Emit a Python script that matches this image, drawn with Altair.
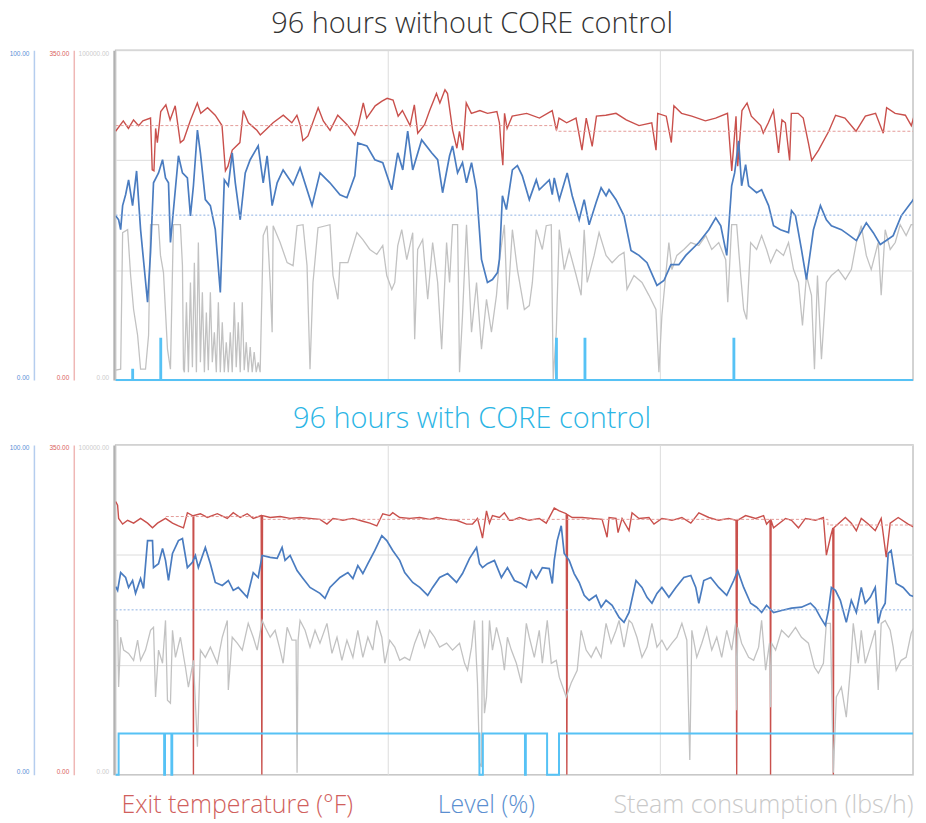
import altair as alt
import pandas as pd

# ---------------- data (time in hours, values in engineering units) ----------------
X_MAX = 93.7          # visible part of the 96 h window
GRID_HOURS = [32, 64]
LEVEL_MAX, TEMP_MAX, STEAM_MAX, STATUS_MAX = 100, 350, 100000, 8
LEVEL_SETPOINT = 50

TOP_TEMP = [(0.0,264),(0.9,275),(1.5,267),(2.1,276),(2.7,270),(3.2,275),(4.1,278),(4.3,223),(4.5,222),(4.7,267),
 (4.9,252),(5.3,285),(5.9,292),(6.4,276),(7.0,291),(7.6,252),(8.0,255),(8.8,276),(9.6,294),(10.0,283),(10.8,289),
 (11.7,281),(12.5,270),(12.9,222),(13.2,227),(13.7,244),(14.6,252),(15.0,286),(15.6,273),(16.6,265),(17.0,260),
 (17.8,267),(18.5,273),(19.7,281),(20.7,273),(21.3,281),(21.7,270),(22.0,254),(22.6,259),(23.8,289),(24.4,275),
 (25.2,265),(26.1,281),(27.2,271),(28.1,260),(28.5,270),(29.1,294),(29.5,278),(30.5,291),(31.3,296),(31.9,299),
 (32.6,297),(33.2,280),(33.7,286),(34.6,270),(35.1,292),(35.5,262),(36.3,271),(36.9,286),(37.7,304),(38.1,294),
 (38.7,308),(39.0,304),(39.6,265),(40.1,246),(40.4,264),(40.8,244),(41.2,294),(41.8,283),(42.8,286),(43.7,283),
 (44.8,285),(45.1,273),(45.3,248),(45.5,228),(45.7,283),(46.0,267),(46.6,280),(48.3,283),(49.8,278),(51.3,286),
 (51.8,265),(52.1,278),(53.0,273),(54.1,278),(54.8,244),(55.3,278),(56.0,248),(56.5,280),(57.6,281),(58.8,283),
 (60.0,276),(61.5,270),(63.0,273),(63.5,244),(63.7,283),(64.7,280),(65.3,252),(65.6,291),(66.5,283),(67.7,280),
 (69.3,275),(70.5,278),(71.9,283),(72.4,222),(72.9,280),(73.1,227),(73.6,286),(74.2,294),(74.7,280),(75.8,270),
 (76.1,262),(76.7,273),(77.3,286),(77.9,241),(78.3,276),(78.7,273),(79.2,233),(79.4,283),(80.2,283),(80.8,278),
 (81.4,252),(81.8,233),(82.6,244),(83.8,264),(84.6,281),(85.7,278),(87.0,264),(88.1,280),(89.3,283),(90.2,262),
 (90.6,289),(91.6,283),(92.8,281),(93.5,270),(94.2,292),(94.5,273),(95.0,276)]
TOP_TEMP_AVG = [(0.0,270),(51.8,264),(93.7,264)]

TOP_LEVEL = [(0.0,49.8),(0.35,48.6),(0.59,45.6),(0.82,52.9),(1.17,56.2),(1.52,60.7),(1.99,52.9),(2.46,63.4),
 (2.93,45.6),(3.75,23.6),(4.10,38.7),(4.45,59.8),(5.04,62.8),(5.51,66.8),(5.86,61.3),(6.21,59.8),(6.44,41.7),
 (7.38,68.0),(7.85,62.8),(8.43,61.3),(8.79,49.8),(9.14,58.9),(9.61,75.8),(9.96,68.9),(10.54,54.7),(11.13,52.9),
 (11.71,45.6),(12.30,26.6),(12.77,60.7),(13.24,58.9),(13.70,68.9),(14.06,59.8),(14.64,48.6),(15.23,62.8),
 (15.81,66.8),(16.75,71.0),(17.34,59.8),(17.80,68.0),(18.39,52.9),(18.98,59.8),(19.68,63.7),(20.85,59.2),
 (21.67,64.4),(23.08,52.9),(24.01,62.8),(25.18,59.8),(26.36,56.2),(27.18,55.3),(28.11,61.9),(28.46,71.9),
 (29.52,71.0),(30.46,66.8),(31.39,65.9),(32.45,57.7),(33.15,68.9),(33.74,63.7),(34.32,75.5),(34.91,63.7),
 (35.96,72.8),(37.13,68.9),(37.84,66.8),(38.42,56.8),(39.24,68.0),(39.59,71.0),(40.18,62.8),(40.76,65.9),
 (41.23,59.8),(41.82,65.9),(42.41,57.7),(42.99,36.6),(43.69,29.6),(44.28,30.5),(44.87,32.6),(45.10,36.6),
 (45.45,55.9),(45.92,51.7),(46.62,63.7),(47.21,65.0),(47.79,61.9),(48.61,54.7),(49.43,60.7),(49.78,57.7),
 (50.96,60.7),(51.31,56.2),(51.54,61.3),(52.13,54.7),(53.06,62.8),(53.65,55.9),(54.47,48.6),(55.06,54.7),
 (55.64,47.1),(56.46,53.8),(57.05,58.3),(57.63,55.9),(57.98,57.7),(58.80,54.7),(59.74,49.8),(60.56,39.3),
 (61.50,37.8),(62.44,35.6),(63.61,28.7),(64.43,30.2),(65.25,35.0),(66.18,35.0),(67.00,37.8),(68.53,41.7),
 (69.70,45.6),(70.52,49.2),(71.11,46.8),(71.81,37.8),(72.39,58.9),(72.74,62.8),(73.21,72.5),(73.56,58.9),
 (74.03,65.3),(74.38,58.9),(75.32,56.8),(75.91,57.7),(76.73,52.9),(77.31,46.8),(78.13,45.6),(79.07,44.7),
 (79.42,51.4),(79.89,49.8),(80.59,39.6),(81.18,30.5),(82.00,45.6),(82.82,52.9),(83.52,48.6),(84.11,46.8),
 (85.28,45.6),(86.10,44.1),(87.04,42.3),(88.21,47.7),(89.03,44.7),(89.85,41.1),(90.55,42.3),(91.37,43.8),
 (92.31,49.8),(93.48,53.8),(94.53,57.7),(95.0,58.9)]

TOP_STEAM = [(0.0,3000),(0.59,3300),(0.82,44700),(1.41,45600),(1.76,31700),(2.11,21400),(2.58,13600),(2.93,3300),
 (3.51,3300),(3.87,13600),(4.10,47100),(5.04,47100),(5.27,37800),(5.62,32600),(6.09,9400),(6.44,3300),(6.79,47100),
 (7.61,47100),(7.85,34700),(7.97,3300),(8.08,2400),(8.32,23600),(8.55,2400),(8.79,29600),(9.02,3900),(9.25,35600),
 (9.49,2400),(9.72,41700),(9.96,5400),(10.19,26600),(10.43,2400),(10.66,20500),(10.89,3000),(11.13,26600),
 (11.36,5400),(11.60,14500),(11.83,2400),(12.07,23600),(12.30,2400),(12.53,17500),(12.77,2400),(13.00,11500),
 (13.24,2400),(13.47,14500),(13.70,2400),(13.94,23600),(14.17,3900),(14.41,17500),(14.64,2400),(14.88,23600),
 (15.11,3000),(15.35,11500),(15.58,2400),(15.81,10000),(16.05,2400),(16.28,8500),(16.52,2400),(16.75,5400),
 (16.98,2400),(17.34,43800),(17.80,46800),(18.16,29600),(18.39,14500),(18.51,46800),(19.33,41700),(20.15,35600),
 (20.85,34700),(21.32,46800),(22.02,47100),(22.49,34700),(22.84,3300),(23.19,29600),(23.78,46200),(25.18,47100),
 (25.54,31700),(26.12,24500),(26.36,35600),(27.29,35600),(28.35,44700),(29.05,42600),(29.87,39600),(30.69,38100),
 (31.39,40800),(31.86,31700),(32.45,27500),(32.80,29600),(33.15,40800),(33.62,45600),(34.21,36500),(34.91,44700),
 (35.14,12400),(35.49,39600),(36.08,42600),(36.67,24500),(37.25,41700),(37.84,29600),(38.31,9400),(38.89,41700),
 (39.24,29600),(39.59,47100),(40.18,47100),(40.41,2400),(40.76,19600),(41.23,47100),(41.82,14500),(42.41,29600),
 (42.99,9400),(43.58,24500),(44.16,14500),(44.75,25700),(45.10,36500),(45.68,47100),(46.04,21400),(46.62,45600),
 (47.21,33500),(48.03,21400),(48.61,22600),(48.97,29600),(49.43,45600),(50.14,39600),(50.60,46800),(51.19,47100),
 (51.42,300),(51.78,14500),(52.13,45600),(52.71,33500),(53.30,39600),(54.12,31700),(54.70,25700),(55.06,45600),
 (55.41,29600),(56.23,37800),(56.81,44700),(57.63,37800),(58.34,35600),(59.16,37800),(59.74,38700),(60.09,27500),
 (60.91,31700),(61.85,29600),(62.67,25700),(63.49,21400),(63.84,2400),(64.19,19600),(65.01,41700),(65.37,33500),
 (65.95,37800),(66.77,39600),(67.59,41700),(68.53,40800),(69.35,43800),(70.05,39600),(70.87,41700),(71.69,36500),
 (71.93,23600),(72.39,47100),(72.98,47100),(73.45,31700),(73.80,21400),(74.15,18400),(74.62,41700),(75.32,39600),
 (75.91,43800),(76.49,39600),(76.96,35600),(77.66,39600),(78.48,37800),(79.07,41700),(79.66,33500),(80.24,29600),
 (80.71,16600),(81.18,31700),(81.77,25700),(82.12,3300),(82.47,31700),(82.94,6300),(83.52,29600),(84.11,31700),
 (84.93,33500),(85.75,30500),(86.45,33500),(87.04,41700),(87.62,46800),(88.21,37800),(88.79,33500),(89.61,41700),
 (89.96,25700),(90.43,45600),(91.02,39600),(91.61,41700),(92.19,47100),(92.89,43800),(93.48,47100),(94.30,47100),
 (94.65,41700),(95.0,47100)]

TOP_STATUS = [(0.0,0),(1.95,0.25),(2.05,0),(5.25,1),(5.35,0),(51.75,1),(51.85,0),(55.1,1),(55.2,0),
 (72.6,1),(72.7,0),(93.7,0)]

BOT_TEMP = [(0.0,290),(0.23,286),(0.35,272),(0.82,266),(1.41,270),(2.11,267),(2.93,272),(3.75,267),(4.33,262),
 (4.92,267),(5.86,272),(6.68,267),(7.38,264),(7.97,262),(8.43,278),(9.02,275),(9.10,275),(9.14,0),(9.18,275),
 (9.96,277),(10.78,273),(11.95,277),(13.12,272),(13.82,278),(14.64,273),(15.46,277),(16.17,272),(17.10,275),
 (17.18,0),(17.26,275),(18.16,273),(19.33,274),(20.50,272),(21.67,273),(22.84,272),(24.01,271),(24.83,266),
 (25.54,272),(26.71,270),(27.88,272),(29.05,269),(29.87,267),(30.69,264),(31.39,277),(32.21,275),(32.56,278),
 (33.38,273),(34.56,272),(35.73,273),(36.90,271),(37.72,273),(38.89,271),(40.06,270),(41.23,266),(41.94,266),
 (42.52,272),(42.99,256),(43.11,251),(43.58,280),(43.93,267),(44.28,275),(45.10,273),(45.68,278),(46.27,270),
 (46.62,270),(47.44,273),(48.61,270),(49.78,272),(50.60,267),(51.54,283),(52.13,280),(52.95,277),(53.02,0),
 (53.10,276),(53.65,273),(54.82,273),(55.99,272),(57.16,271),(57.75,252),(57.98,273),(58.80,272),(59.04,257),
 (59.51,272),(60.33,259),(60.68,278),(61.50,272),(62.67,273),(63.26,266),(64.19,272),(65.37,270),(66.54,273),
 (67.59,267),(68.53,278),(69.70,273),(70.87,270),(72.04,272),(72.90,270),(72.98,0),(73.06,270),(74.03,275),
 (75.21,272),(76.14,275),(76.49,266),(76.90,270),(76.96,0),(77.02,270),(77.31,262),(78.72,272),(79.42,270),
 (80.24,262),(81.06,272),(82.23,270),(83.17,273),(83.52,233),(83.99,252),(84.28,262),(84.34,0),(84.40,262),
 (85.75,273),(86.45,267),(87.04,259),(87.62,272),(88.44,266),(89.26,259),(89.96,272),(90.55,231),(91.02,267),
 (91.96,273),(93.13,266),(93.95,262),(94.53,272),(95.0,267)]
BOT_TEMP_AVG = [(5.9,274),(17.0,271),(83.7,265),(93.7,265)]

BOT_LEVEL = [(0.0,57.0),(0.23,55.9),(0.59,61.3),(1.17,59.8),(1.52,56.8),(1.99,58.9),(2.34,55.0),(2.93,59.5),
 (3.28,56.5),(3.75,71.0),(4.33,71.0),(4.45,62.8),(5.04,64.0),(5.51,68.6),(5.86,65.0),(6.21,58.9),(6.68,67.1),
 (7.38,71.0),(7.85,71.6),(8.43,62.8),(9.02,64.4),(9.37,66.5),(9.72,62.8),(10.54,68.9),(11.13,64.0),(11.71,58.3),
 (12.53,57.4),(13.24,58.9),(13.82,55.9),(14.41,56.8),(15.46,53.8),(16.17,61.3),(16.75,59.8),(17.22,66.5),
 (18.16,65.9),(18.98,65.6),(19.56,68.9),(19.91,65.0),(20.50,66.5),(21.32,61.9),(22.02,59.5),(22.84,56.8),
 (24.01,55.0),(24.60,53.5),(25.18,56.8),(26.36,59.8),(27.29,61.3),(27.88,59.5),(28.46,63.4),(29.05,61.0),
 (29.64,64.0),(30.46,68.0),(31.28,72.5),(31.86,71.0),(32.56,68.0),(33.38,65.0),(33.97,61.3),(34.91,58.3),
 (35.73,56.8),(36.67,54.4),(37.25,56.8),(38.07,59.8),(39.01,61.0),(40.06,58.3),(40.76,61.0),(41.59,65.6),
 (42.41,68.9),(42.76,64.0),(43.11,62.8),(43.69,64.0),(44.51,65.0),(45.33,59.8),(46.04,62.8),(46.86,58.9),
 (47.68,58.0),(48.26,56.8),(48.85,61.9),(49.43,59.5),(50.14,62.8),(50.96,62.5),(51.31,58.0),(51.54,65.0),
 (51.89,71.0),(52.36,75.5),(52.71,67.1),(53.30,65.0),(53.88,61.0),(54.47,58.3),(55.06,54.4),(55.64,52.9),
 (56.46,54.4),(57.05,50.8),(57.63,52.9),(58.34,51.4),(59.16,47.7),(59.74,46.2),(60.33,49.2),(61.15,58.9),
 (61.85,56.8),(62.44,53.8),(63.02,52.0),(63.61,55.0),(64.19,56.8),(65.01,53.8),(65.83,56.8),(66.77,59.8),
 (67.59,60.4),(68.17,56.8),(68.53,52.0),(69.11,58.9),(69.93,59.8),(70.87,56.8),(71.81,54.4),(72.63,58.9),
 (73.10,61.9),(73.80,56.8),(74.62,52.0),(75.32,50.8),(75.91,49.2),(76.49,51.4),(77.31,49.2),(78.25,49.8),
 (79.42,50.5),(80.59,50.8),(81.65,52.0),(82.23,50.5),(82.82,47.7),(83.40,45.3),(83.76,49.8),(84.11,56.8),
 (84.58,55.9),(85.16,52.9),(85.86,46.2),(86.45,52.9),(87.04,49.2),(87.62,56.8),(88.09,52.0),(88.68,53.8),
 (89.26,56.8),(89.61,45.9),(89.96,49.8),(90.43,52.0),(90.78,67.1),(91.13,68.0),(91.72,58.0),(92.54,56.8),
 (93.36,54.4),(94.06,53.8),(94.65,52.0),(95.0,49.8)]

BOT_STEAM = [(0.0,46800),(0.23,46800),(0.35,26600),(0.59,41700),(0.94,37800),(1.52,36800),(2.11,34700),(2.58,40800),
 (2.93,34700),(3.51,37800),(4.10,43800),(4.45,44700),(4.69,23600),(5.04,37800),(5.51,33800),(5.86,46800),(6.09,22600),
 (6.44,21700),(6.68,43800),(7.03,35600),(7.61,41700),(8.20,32600),(8.55,26600),(9.14,34700),(9.61,8500),(9.96,37800),
 (10.54,35600),(11.13,38700),(11.95,33800),(12.53,41700),(13.12,46800),(13.24,25700),(13.70,41700),(14.29,39900),
 (14.88,37800),(15.58,45900),(16.17,41700),(16.63,37800),(17.22,46800),(17.57,44700),(18.16,41700),(18.74,43800),
 (19.33,37800),(19.68,33800),(20.15,44700),(20.73,40800),(21.20,40800),(21.32,600),(21.44,40800),(21.67,46800),
 (22.26,43800),(22.84,38700),(23.43,43800),(24.01,39900),(24.83,45900),(25.42,36800),(26.01,41700),(26.59,34700),
 (27.18,40800),(27.88,35600),(28.46,43800),(29.05,35600),(29.64,41700),(30.22,37800),(30.69,46800),(31.28,41700),
 (31.63,33800),(32.21,40800),(32.80,38700),(33.38,34700),(33.97,35600),(34.56,34700),(35.14,39900),(35.73,43800),
 (36.31,38700),(36.90,43800),(37.48,41700),(38.07,38700),(38.89,39900),(39.59,37800),(40.41,39900),(41.00,33800),
 (41.35,31700),(41.82,38700),(42.17,46800),(42.52,27800),(42.76,3600),(42.99,2400),(43.11,46800),(43.34,18700),
 (43.58,23600),(43.93,46800),(44.28,37800),(44.75,44700),(45.33,38700),(45.68,31700),(46.04,41700),(46.50,37800),
 (47.09,33800),(47.68,27800),(48.26,45900),(48.61,41700),(49.20,35600),(49.78,43800),(50.14,33800),(50.72,46800),
 (51.19,33800),(51.78,34700),(52.13,29600),(52.95,23600),(53.53,27800),(54.24,31700),(54.70,43800),(55.29,37800),
 (55.88,35600),(56.46,38700),(57.05,35600),(57.63,45900),(58.22,39900),(58.80,43800),(59.16,46800),(59.74,38700),
 (60.33,46800),(60.68,45900),(61.26,41700),(61.85,35600),(62.44,38700),(63.02,45900),(63.61,38700),(64.19,40800),
 (64.78,37800),(65.37,39900),(65.95,41700),(66.54,45900),(67.12,40800),(67.47,4500),(67.71,43800),(68.29,35600),
 (68.88,39900),(69.46,44700),(70.05,37800),(70.64,41700),(71.22,35600),(71.81,43800),(72.39,37800),(72.86,45900),
 (72.98,19600),(73.10,44700),(73.56,39900),(74.38,35600),(74.97,34700),(75.56,38700),(75.91,46800),(76.38,31700),
 (76.84,39900),(76.96,20500),(77.08,39900),(77.55,37800),(78.25,43800),(79.07,41700),(79.89,44700),(80.59,41700),
 (81.41,39900),(82.12,32600),(82.58,30800),(83.17,33800),(83.52,45900),(83.99,45900),(84.34,600),(84.69,23600),
 (85.28,26600),(85.86,17500),(86.33,31700),(86.68,45900),(87.27,33800),(87.62,43800),(88.09,33800),(88.68,38700),
 (89.26,43800),(89.61,25700),(89.96,45900),(90.43,46800),(91.02,43800),(91.37,38700),(91.72,31700),(92.31,34700),
 (92.89,35600),(93.48,42900),(94.06,45900),(94.53,38700),(95.0,35600)]

BOT_STATUS = [(0.0,0),(0.35,1),(5.7,0),(5.8,1),(6.55,0),(6.65,1),(42.75,0),(43.15,1),(48.1,0),(48.2,1),
 (50.7,0),(52.1,1),(93.7,1)]

TITLES = ["96 hours without CORE control", "96 hours with CORE control"]
LEGEND_LABELS = ["Exit temperature (°F)", "Level (%)", "Steam consumption (lbs/h)"]

# ---------------- styles ----------------
RED, BLUE, GRAY, CYAN = "#c9504c", "#4a7cc0", "#c2c2c2", "#56c2f5"
RED_DASH, BLUE_DASH = "#e49c99", "#8fb2e3"
GRID = "#dcdcdc"
TITLE_COLORS = ["#333333", "#2bb5e5"]
LEGEND_COLORS = ["#d0605c", "#5b8fd0", "#c9c9c9"]
LEGEND_SLOT_WIDTHS = [244, 256, 300]
FONT = "Open Sans"
PLOT_W, PLOT_H = 800, 331

X_AXIS = alt.Axis(values=GRID_HOURS, grid=True, gridColor=GRID, gridWidth=1, labels=False,
                  ticks=False, domain=False, title=None)


def y_axis(offset, vmax, line_color, label_color, grid=False):
    kw = dict(orient="left", offset=offset, format=".2f", ticks=False, domainColor=line_color,
              domainWidth=1.5, labelColor=label_color, labelFontSize=6.5, labelFont="Liberation Sans",
              labelPadding=5, labelFlush=True, title=None, grid=grid)
    if grid:
        kw["values"] = [0, vmax / 3, 2 * vmax / 3, vmax]
        kw["gridColor"] = GRID
        kw["labelExpr"] = f"datum.value == 0 || datum.value == {vmax} ? format(datum.value, '.2f') : ''"
    else:
        kw["values"] = [0, vmax]
    return alt.Axis(**kw)


def line(pairs, color, vmax, axis=None, width=1.3, dash=None, interp="linear", clip=True):
    df = pd.DataFrame(pairs, columns=["t", "v"])
    mk = dict(color=color, strokeWidth=width, clip=clip, interpolate=interp)
    if dash:
        mk["strokeDash"] = dash
    return alt.Chart(df).mark_line(**mk).encode(
        x=alt.X("t:Q", scale=alt.Scale(domain=[0, X_MAX], nice=False, zero=False), axis=X_AXIS),
        y=alt.Y("v:Q", scale=alt.Scale(domain=[0, vmax], nice=False, zero=True), axis=axis),
    )


def panel(temp, temp_avg, steam, level, status, title, title_color):
    setpoint = [(0.0, LEVEL_SETPOINT), (X_MAX, LEVEL_SETPOINT)]
    layers = [
        line(temp, RED, TEMP_MAX, y_axis(42, TEMP_MAX, "#efb7b5", "#d9605c"), width=1.4),
        line(temp_avg, RED_DASH, TEMP_MAX, None, width=1, dash=[3, 2], interp="step-after"),
        line(steam, GRAY, STEAM_MAX, y_axis(2, STEAM_MAX, "#a8a8a8", "#cccccc", grid=True), width=1.3),
        line(level, BLUE, LEVEL_MAX, y_axis(82, LEVEL_MAX, "#b5cdee", "#5b8fd6"), width=1.7),
        line(setpoint, BLUE_DASH, LEVEL_MAX, None, width=1, dash=[2, 2]),
        line(status, CYAN, STATUS_MAX, None, width=2, interp="step-after", clip=False),
    ]
    return alt.layer(*layers).resolve_scale(y="independent").properties(
        width=PLOT_W, height=PLOT_H,
        title=alt.TitleParams(title, font=FONT, fontSize=29, fontWeight=300, color=title_color,
                              anchor="middle", frame="bounds", offset=11, dx=9),
        view=alt.ViewBackground(stroke="#c4c4c4", strokeWidth=1.5),
    )


top = panel(TOP_TEMP, TOP_TEMP_AVG, TOP_STEAM, TOP_LEVEL, TOP_STATUS, TITLES[0], TITLE_COLORS[0])
bottom = panel(BOT_TEMP, BOT_TEMP_AVG, BOT_STEAM, BOT_LEVEL, BOT_STATUS, TITLES[1], TITLE_COLORS[1])

legend_items = []
for label, color, slot in zip(LEGEND_LABELS, LEGEND_COLORS, LEGEND_SLOT_WIDTHS):
    legend_items.append(
        alt.Chart(pd.DataFrame({"label": [label]})).mark_text(
            font=FONT, fontSize=25, fontWeight=300, color=color
        ).encode(text="label:N").properties(width=slot, height=20)
    )
legend = alt.hconcat(*legend_items, spacing=0, bounds="flush")

panels = alt.vconcat(top, bottom, spacing=19)
chart = alt.vconcat(panels, legend, spacing=13).properties(padding=0).configure_view(stroke="transparent")

chart.save("out.html", embed_options={"renderer": "svg", "actions": False})
